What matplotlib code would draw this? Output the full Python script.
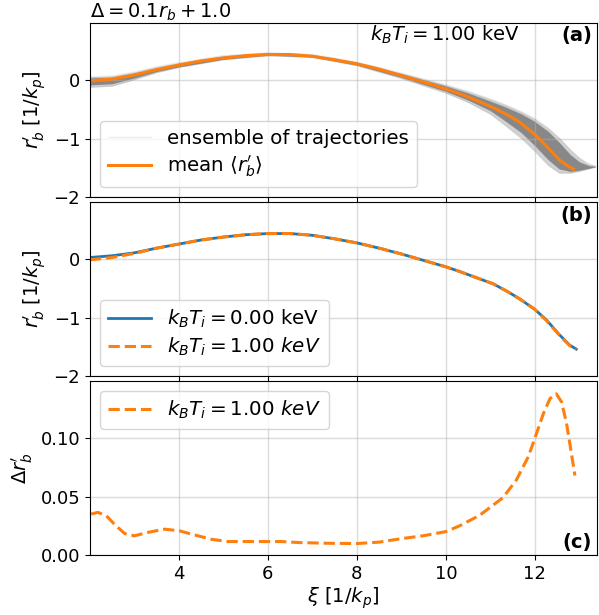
"""Beam centroid trajectory comparison, three stacked panels"""
import matplotlib
matplotlib.use('Agg')
import matplotlib.pyplot as plt
import numpy as np

plt.rcParams['font.size'] = 14
plt.rcParams['xtick.labelsize'] = 13
plt.rcParams['ytick.labelsize'] = 13

# ---- panel (a): ensemble envelope + mean ----
ens_xi = [2.0, 2.5, 3.0, 3.5, 4.0, 5.0, 6.0, 7.0, 8.0, 9.0, 10.0, 10.5, 11.0,
          11.34, 11.7, 12.0, 12.3, 12.55, 12.8, 13.0, 13.2, 13.36]
ens_outer_hi = [0.06, 0.07, 0.14, 0.23, 0.30, 0.42, 0.47, 0.44, 0.31, 0.12, -0.08,
                -0.19, -0.32, -0.42, -0.54, -0.66, -0.82, -0.99, -1.19, -1.33,
                -1.43, -1.47]
ens_inner_hi = [0.04, 0.05, 0.12, 0.21, 0.28, 0.41, 0.46, 0.43, 0.30, 0.11, -0.10,
                -0.22, -0.36, -0.46, -0.58, -0.71, -0.88, -1.07, -1.28, -1.40,
                -1.46, -1.48]
ens_inner_lo = [-0.08, -0.06, 0.04, 0.15, 0.23, 0.36, 0.43, 0.40, 0.26, 0.05, -0.19,
                -0.34, -0.52, -0.70, -0.90, -1.12, -1.36, -1.52, -1.56, -1.54,
                -1.51, -1.48]
ens_outer_lo = [-0.12, -0.10, 0.01, 0.13, 0.22, 0.35, 0.42, 0.39, 0.25, 0.03, -0.22,
                -0.38, -0.58, -0.78, -1.00, -1.22, -1.46, -1.59, -1.59, -1.56,
                -1.52, -1.49]

mean_xi = [2.0, 2.5, 3.0, 3.5, 4.0, 4.5, 5.0, 5.5, 6.0, 6.5, 7.0, 7.5, 8.0, 8.5,
           9.0, 9.5, 10.0, 10.31, 10.7, 11.06, 11.4, 11.66, 12.0, 12.26, 12.56,
           12.78, 12.87]
mean_rb = [-0.01, 0.02, 0.09, 0.18, 0.26, 0.33, 0.38, 0.42, 0.44, 0.44, 0.41, 0.35,
           0.28, 0.19, 0.08, -0.03, -0.15, -0.23, -0.35, -0.47, -0.60, -0.72,
           -0.93, -1.13, -1.37, -1.49, -1.52]

# ---- panel (b): cold vs warm ----
b_xi = [2.0, 2.5, 3.0, 3.5, 4.0, 4.5, 5.0, 5.5, 6.0, 6.5, 7.0, 7.5, 8.0, 8.5,
        9.0, 9.5, 10.0, 10.31, 10.7, 11.06, 11.4, 11.66, 12.0, 12.26, 12.56,
        12.78, 12.93]
rb_cold = [0.03, 0.06, 0.11, 0.19, 0.26, 0.33, 0.38, 0.42, 0.44, 0.44, 0.41, 0.35,
           0.28, 0.19, 0.09, -0.02, -0.13, -0.21, -0.32, -0.42, -0.56, -0.68,
           -0.86, -1.04, -1.30, -1.47, -1.54]
rb_warm = [-0.01, 0.03, 0.10, 0.19, 0.26, 0.33, 0.38, 0.42, 0.44, 0.44, 0.41, 0.35,
           0.28, 0.19, 0.09, -0.02, -0.13, -0.21, -0.32, -0.42, -0.56, -0.68,
           -0.86, -1.05, -1.31, -1.48, -1.54]

# ---- panel (c): difference ----
c_xi = [2.03, 2.18, 2.37, 2.55, 2.78, 3.0, 3.3, 3.68, 4.01, 4.35, 4.72, 5.1, 5.7,
        6.3, 6.72, 7.4, 8.0, 8.5, 9.0, 9.5, 10.0, 10.31, 10.76, 11.28, 11.58,
        11.85, 12.0, 12.19, 12.34, 12.48, 12.6, 12.71, 12.82, 12.9]
d_rb = [0.035, 0.0365, 0.0336, 0.0264, 0.0184, 0.0164, 0.0193, 0.0221, 0.0207,
        0.0172, 0.0135, 0.0115, 0.0115, 0.0115, 0.0106, 0.0100, 0.0098, 0.0110,
        0.0140, 0.0165, 0.0200, 0.0250, 0.0340, 0.0490, 0.0640, 0.0840, 0.1000,
        0.1210, 0.1340, 0.1380, 0.1310, 0.1130, 0.0870, 0.0680]

orange = '#ff7f0e'
blue = '#1f77b4'

fig = plt.figure(figsize=(5.99, 6.15), dpi=100)
ax_a = fig.add_axes([0.150, 0.6797, 0.847, 0.2829])
ax_b = fig.add_axes([0.150, 0.3886, 0.847, 0.2829], sharex=ax_a)
ax_c = fig.add_axes([0.150, 0.0976, 0.847, 0.2829], sharex=ax_a)

leg_kw = dict(fontsize=14.3, labelspacing=0.3, handlelength=2.2)

# (a)
ax_a.fill_between(ens_xi, ens_outer_lo, ens_outer_hi, color='gray', alpha=0.35, lw=0)
ax_a.fill_between(ens_xi, ens_inner_lo, ens_inner_hi, color='gray', alpha=0.9, lw=0)
for i, tr in enumerate([ens_outer_hi, ens_inner_hi, ens_inner_lo, ens_outer_lo]):
    ax_a.plot(ens_xi, tr, color='gray', alpha=0.15, lw=1,
              label='ensemble of trajectories' if i == 0 else None)
ax_a.plot(mean_xi, mean_rb, color=orange, lw=2.2, label=r"mean $\langle r_b' \rangle$")
ax_a.set_title(r'$\Delta = 0.1 r_b + 1.0$', loc='left', fontsize=14, pad=4)
ax_a.text(0.70, 0.93, r'$k_BT_i = 1.00$ keV', transform=ax_a.transAxes,
          ha='center', va='center', fontsize=14)
ax_a.text(0.99, 0.93, '(a)', transform=ax_a.transAxes, ha='right', va='center',
          fontsize=14, fontweight='bold')
ax_a.legend(loc='lower left', **leg_kw)

# (b)
ax_b.plot(b_xi, rb_cold, color=blue, lw=2, label=r'$k_BT_i = 0.00$ keV')
ax_b.plot(b_xi, rb_warm, color=orange, lw=2.2, ls='--', label=r'$k_BT_i = 1.00\ keV$')
ax_b.text(0.99, 0.925, '(b)', transform=ax_b.transAxes, ha='right', va='center',
          fontsize=14, fontweight='bold')
ax_b.legend(loc='lower left', **leg_kw)

# (c)
ax_c.plot(c_xi, d_rb, color=orange, lw=2.2, ls='--', label=r'$k_BT_i = 1.00\ keV$')
ax_c.text(0.99, 0.07, '(c)', transform=ax_c.transAxes, ha='right', va='center',
          fontsize=14, fontweight='bold')
ax_c.legend(loc='upper left', **leg_kw)

for ax in (ax_a, ax_b):
    ax.set_ylim(-2, 0.98)
    ax.set_yticks([-2, -1, 0])
    ax.set_ylabel(r"$r_b'$ [$1/k_p$]", fontsize=14)
    ax.tick_params(labelbottom=False)
ax_c.set_ylim(0, 0.149)
ax_c.set_yticks([0, 0.05, 0.10])
ax_c.set_yticklabels(['0.00', '0.05', '0.10'])
ax_c.set_ylabel(r"$\Delta r_b'$", fontsize=14)
ax_c.set_xlabel(r'$\xi$ [$1/k_p$]', fontsize=14, labelpad=2)
ax_c.set_xlim(2.0, 13.4)
ax_c.set_xticks([4, 6, 8, 10, 12])

for ax in (ax_a, ax_b, ax_c):
    ax.grid(True, color='#b0b0b0', alpha=0.45, lw=1)

fig.savefig('out.png', dpi=100)
plt.close()
